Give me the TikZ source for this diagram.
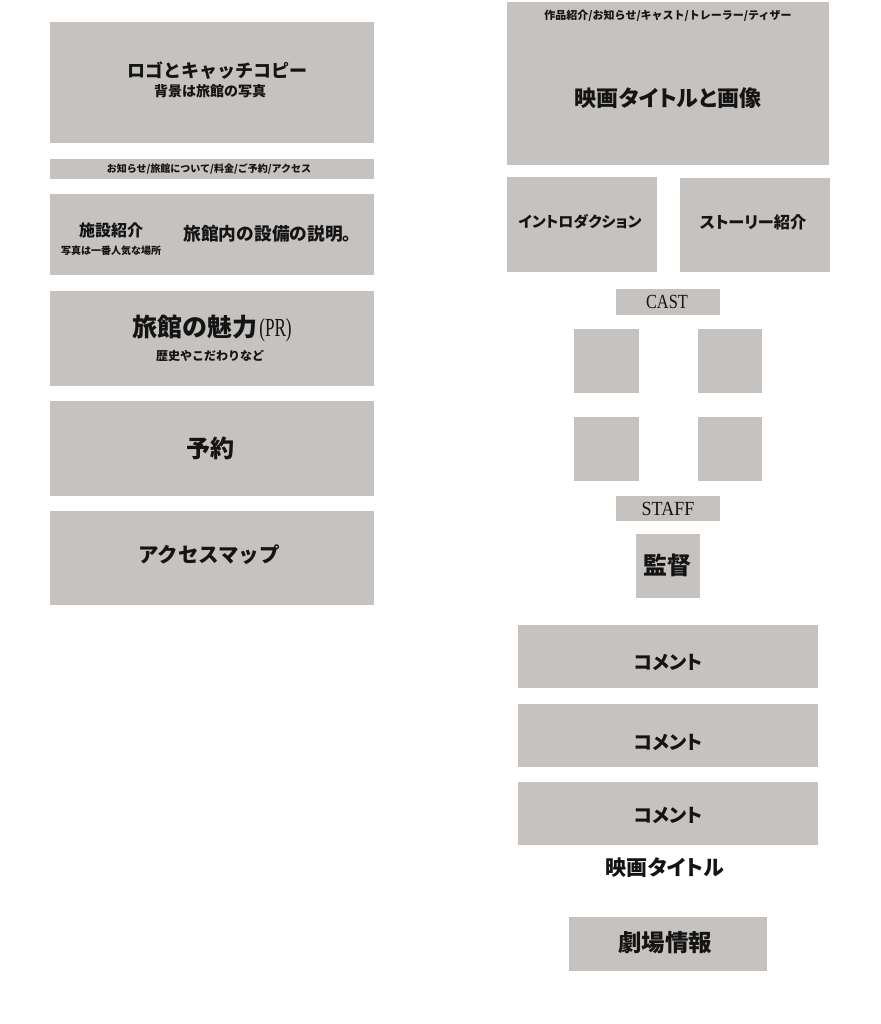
\documentclass[tikz,border=0pt]{standalone}
\usepackage{fontspec}
\newfontfamily\jp{Noto Sans CJK JP}
\newfontfamily\jpp[RawFeature=+palt]{Noto Sans CJK JP}
\newfontfamily\cond[FakeStretch=0.82]{Liberation Serif}
\newfontfamily\condw[FakeStretch=0.9]{Liberation Serif}
\newfontfamily\condn[FakeStretch=0.66]{Liberation Serif}
\definecolor{boxgray}{RGB}{197,194,191}
\definecolor{ink}{RGB}{20,20,20}
\tikzset{
  box/.style={rectangle, fill=boxgray, draw=none, inner sep=0pt, outer sep=0pt},
  txt/.style={inner sep=0pt, outer sep=0pt, text=ink, font=\jp\bfseries, anchor=center},
  ptxt/.style={inner sep=0pt, outer sep=0pt, text=ink, font=\jpp\bfseries, anchor=center}
}
\newcommand{\fsz}[1]{\fontsize{#1}{#1}\selectfont}
\begin{document}
\begin{tikzpicture}[x=1pt,y=-1pt]
\useasboundingbox (0,0) rectangle (880,1024);
% ---------- left column ----------
\node[box, minimum width=324, minimum height=121] (logo) at (212,82.5) {};
\node[txt] (logoT) at (217,71) {\fsz{18}ロゴとキャッチコピー};
\node[txt] (logoS) at (210,91) {\fsz{14}背景は旅館の写真};

\node[box, minimum width=324, minimum height=20] (nav) at (212,169) {};
\node[txt] (navT) at (209,169) {\fsz{10}お知らせ/旅館について/料金/ご予約/アクセス};

\node[box, minimum width=324, minimum height=81] (fac) at (212,234.5) {};
\node[txt] (facT) at (111,230) {\fsz{16}施設紹介};
\node[txt] (facS) at (111,251) {\fsz{10}写真は一番人気な場所};
\node[txt] (facD) at (272,234) {\fsz{17.7}旅館内の設備の説明。};

\node[box, minimum width=324, minimum height=95] (pr) at (212,338.5) {};
\node[txt] (prT) at (212,328) {\fsz{25}旅館の魅力\hspace{2pt}{\condn\mdseries\fsz{26}(PR)}};
\node[txt] (prS) at (210,356) {\fsz{12}歴史やこだわりなど};

\node[box, minimum width=324, minimum height=95] (rsv) at (212,448.5) {};
\node[txt] (rsvT) at (210,448) {\fsz{24}予約};

\node[box, minimum width=324, minimum height=94] (acc) at (212,558) {};
\node[txt] (accT) at (209,555) {\fsz{20.5}アクセスマップ};

% ---------- right column ----------
\node[box, minimum width=322, minimum height=163] (hero) at (668,83.5) {};
\node[txt] (heroN) at (668,16) {\fsz{11}作品紹介/お知らせ/キャスト/トレーラー/ティザー};
\node[ptxt] (heroT) at (668,98) {\fsz{22}映画タイトルと画像};

\node[box, minimum width=150, minimum height=95] (intro) at (582,224.5) {};
\node[ptxt] (introT) at (580,222) {\fsz{15}イントロダクション};
\node[box, minimum width=150, minimum height=94] (story) at (755,225) {};
\node[ptxt] (storyT) at (753,222) {\fsz{16.2}ストーリー紹介};

\node[box, minimum width=104, minimum height=26] (cast) at (668,302) {};
\node[txt, font=\cond] (castT) at (667,302) {\fsz{20}CAST};

\node[box, minimum width=65, minimum height=64] (sq1) at (606.5,361) {};
\node[box, minimum width=64, minimum height=64] (sq2) at (730,361) {};
\node[box, minimum width=65, minimum height=64] (sq3) at (606.5,449) {};
\node[box, minimum width=64, minimum height=64] (sq4) at (730,449) {};

\node[box, minimum width=104, minimum height=25] (staff) at (668,508.5) {};
\node[txt, font=\condw] (staffT) at (668,508.5) {\fsz{20}STAFF};

\node[box, minimum width=64, minimum height=64] (dir) at (668,566) {};
\node[txt] (dirT) at (667,565) {\fsz{24}監督};

\node[box, minimum width=300, minimum height=63] (c1) at (668,656.5) {};
\node[ptxt] (c1T) at (668,662) {\fsz{19}コメント};
\node[box, minimum width=300, minimum height=63] (c2) at (668,735.5) {};
\node[ptxt] (c2T) at (668,742) {\fsz{19}コメント};
\node[box, minimum width=300, minimum height=63] (c3) at (668,813.5) {};
\node[ptxt] (c3T) at (668,815) {\fsz{19}コメント};

\node[ptxt] (title) at (665,868) {\fsz{21}映画タイトル};

\node[box, minimum width=198, minimum height=54] (theater) at (668,944) {};
\node[txt] (theaterT) at (665,943) {\fsz{23.5}劇場情報};
\end{tikzpicture}
\end{document}
